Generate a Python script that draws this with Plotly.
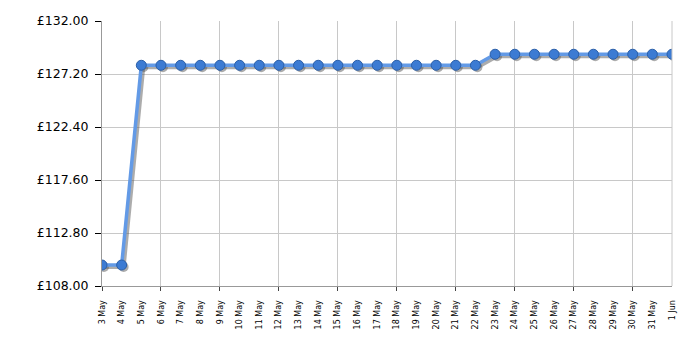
import plotly.graph_objects as go

dates = ["3 May", "4 May", "5 May", "6 May", "7 May", "8 May", "9 May", "10 May",
         "11 May", "12 May", "13 May", "14 May", "15 May", "16 May", "17 May",
         "18 May", "19 May", "20 May", "21 May", "22 May", "23 May", "24 May",
         "25 May", "26 May", "27 May", "28 May", "29 May", "30 May", "31 May", "1 Jun"]
prices = [109.9, 109.9] + [127.99] * 18 + [128.99] * 10

y_ticks = [108.0, 112.8, 117.6, 122.4, 127.2, 132.0]
y_ticktext = ["£%.2f" % v for v in y_ticks]
grid_dates = dates[0:28:3]

n = len(dates)
font = "DejaVu Sans, Verdana, sans-serif"

fig = go.Figure()
# invisible trace anchoring the grid axes
fig.add_trace(go.Scatter(x=dates, y=prices, xaxis="x", yaxis="y", mode="lines",
                         line=dict(color="rgba(0,0,0,0)"), hoverinfo="skip", showlegend=False))
# shadow
fig.add_trace(go.Scatter(x=dates, y=prices, xaxis="x2", yaxis="y2", mode="lines+markers",
                         line=dict(color="rgba(90,90,90,0.5)", width=4),
                         marker=dict(size=10, color="rgba(90,90,90,0.5)"),
                         hoverinfo="skip", showlegend=False))
# main line
fig.add_trace(go.Scatter(x=dates, y=prices, xaxis="x3", yaxis="y", mode="lines+markers",
                         line=dict(color="#639ae6", width=3.5),
                         marker=dict(size=10, color="#3c7bd3", line=dict(color="#2b5fa8", width=1)),
                         showlegend=False))

fig.update_layout(
    width=700, height=350,
    margin=dict(l=102, r=28, t=21, b=64),
    paper_bgcolor="white", plot_bgcolor="white",
    font=dict(family=font, color="#000"),
    xaxis=dict(type="category", categoryorder="array", categoryarray=dates,
               range=[0, n - 1], tickmode="array", tickvals=grid_dates,
               showticklabels=False, ticks="outside", ticklen=4, tickcolor="#444",
               showgrid=True, gridcolor="#c8c8c8", gridwidth=1,
               showline=True, linecolor="#999", linewidth=1, zeroline=False),
    yaxis=dict(range=[y_ticks[0], y_ticks[-1]], tickmode="array", tickvals=y_ticks,
               ticktext=y_ticktext, tickfont=dict(size=12.5, family=font, color="#000"),
               ticks="outside", ticklen=6, tickcolor="#000", ticklabelstandoff=4,
               showgrid=True, gridcolor="#c8c8c8", gridwidth=1,
               showline=True, linecolor="#999", linewidth=1, zeroline=False),
    xaxis2=dict(type="category", categoryorder="array", categoryarray=dates,
                overlaying="x", anchor="y2", range=[-0.1, n - 1.1], visible=False),
    yaxis2=dict(overlaying="y", anchor="x2", range=[y_ticks[0] + 0.18, y_ticks[-1] + 0.18],
                visible=False),
    xaxis3=dict(type="category", categoryorder="array", categoryarray=dates,
                overlaying="x", anchor="y", side="bottom", range=[0, n - 1],
                tickmode="array", tickvals=dates, ticktext=dates, tickangle=-90,
                tickfont=dict(size=8, family=font, color="#000"),
                ticks="outside", ticklen=10, tickcolor="rgba(0,0,0,0)",
                showgrid=False, showline=False, zeroline=False),
    shapes=[dict(type="line", xref="x domain", yref="y domain", x0=1, x1=1, y0=0, y1=1,
                 line=dict(color="#c8c8c8", width=1))],
)

fig.write_html("out.html")
